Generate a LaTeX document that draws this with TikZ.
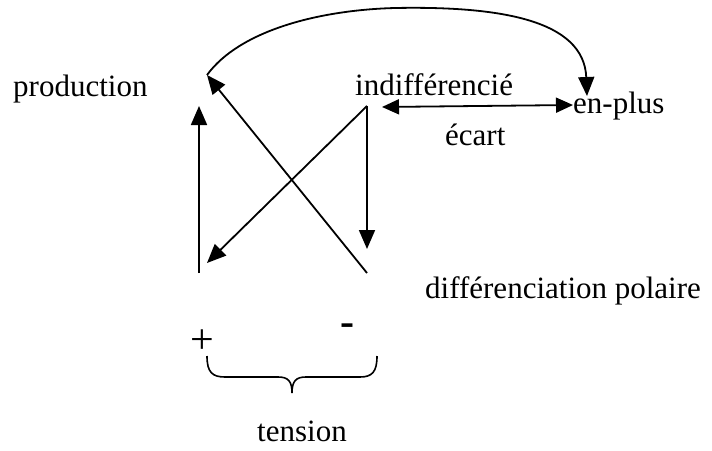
\documentclass[tikz,border=0pt]{standalone}
\usepackage{fontspec}
\setmainfont{Liberation Serif}
\usetikzlibrary{arrows.meta}
\begin{document}
\begin{tikzpicture}[x=1pt,y=-1pt,
  lbl/.style={inner sep=0pt,anchor=base west,font=\fontsize{31}{36}\selectfont},
  conn/.style={line width=1.8pt},
  arr/.style={conn,-{Triangle[length=19pt,width=16pt]}},
  darr/.style={conn,{Triangle[length=17pt,width=15pt]}-{Triangle[length=17pt,width=15pt]}}]
\useasboundingbox (0,0) rectangle (712,450);
% texts
\node[lbl] (production) at (13,96) {production};
\node[lbl] (indiff) at (355,95) {indifférencié};
\node[lbl] (enplus) at (573,113) {en-plus};
\node[lbl] (ecart) at (445,145) {écart};
\node[lbl] (diffpol) at (425,298) {différenciation polaire};
\node[lbl] (tension) at (257,441) {tension};
\node[inner sep=0pt,font=\fontsize{42}{48}\selectfont] (plus) at (202,342) {+};
\node[inner sep=0pt,font=\fontsize{42}{46}\selectfont\bfseries] (minus) at (347,330) {-};
% points
\coordinate (prodpt) at (207,75);
\coordinate (lbot) at (199,273);
\coordinate (ltop) at (199,106);
\coordinate (rtop) at (367,106);
\coordinate (rbot) at (367,273);
\coordinate (rarr) at (367,249);
\coordinate (larr) at (207,263);
\coordinate (dl) at (382,107);
\coordinate (dr) at (573,105);
\coordinate (top) at (395,8);
\coordinate (enpt) at (587,96);
% connectors
\draw[arr] (lbot) -- (ltop);
\draw[arr] (rbot) -- (prodpt);
\draw[arr] (rtop) -- (rarr);
\draw[arr] (rtop) -- (larr);
\draw[darr] (dl) -- (dr);
\draw[arr] (prodpt) .. controls (240,30) and (320,10) .. (top)
  .. controls (500,6) and (584,20) .. (enpt);
% brace
\draw[line width=1.6pt] (207,356) .. controls (207,372) and (212,377) .. (225,377)
  -- (278,377) .. controls (288,377) and (292,381) .. (292,393)
  .. controls (292,381) and (296,377) .. (306,377)
  -- (360,377) .. controls (372,377) and (377,372) .. (377,356);
\end{tikzpicture}
\end{document}
